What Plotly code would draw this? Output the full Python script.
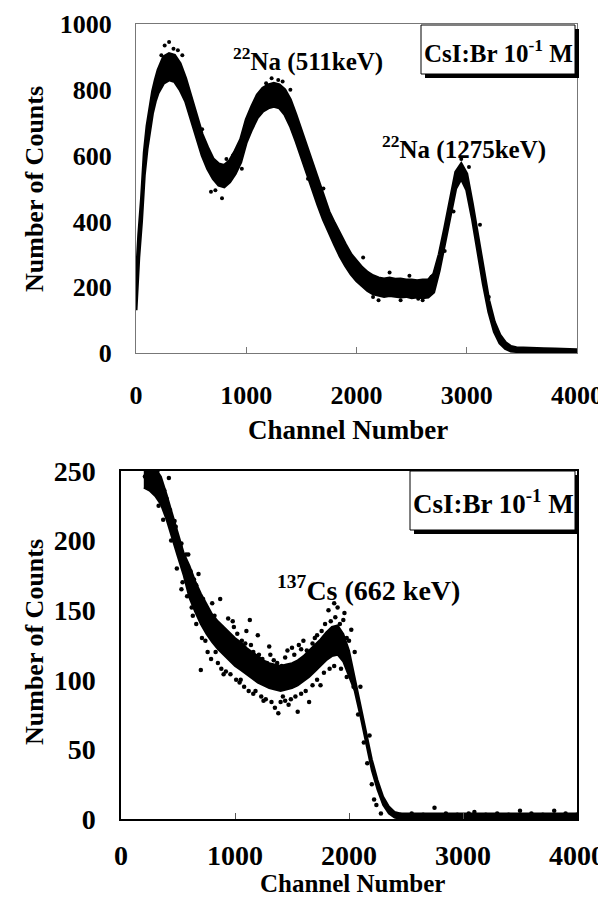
import plotly.graph_objects as go

W, H = 606, 899
FONT = "Liberation Serif"

# ---------------- data: top panel (22Na spectrum) ----------------
top_ch = [0, 10, 25, 50, 75, 100, 125, 150, 175, 200,
          250, 300, 350, 400, 450, 500, 550, 600, 650, 700,
          750, 800, 850, 900, 950, 1000, 1050, 1100, 1150, 1200,
          1250, 1300, 1350, 1400, 1450, 1500, 1550, 1600, 1650, 1700,
          1750, 1800, 1850, 1900, 1950, 2000, 2050, 2100, 2150, 2200,
          2250, 2300, 2350, 2400, 2450, 2500, 2550, 2600, 2650, 2700,
          2750, 2800, 2850, 2900, 2950, 3000, 3050, 3100, 3150, 3200,
          3250, 3300, 3350, 3400, 3450, 3500, 3600, 3700, 3800, 3900, 4000]
top_lo = [130, 200, 290, 400, 540, 620, 680, 730, 765, 790,
          820, 830, 825, 800, 765, 710, 650, 600, 560, 530,
          510, 505, 520, 545, 580, 640, 680, 715, 735, 745,
          750, 745, 725, 690, 645, 595, 545, 500, 450, 405,
          365, 330, 295, 265, 240, 220, 205, 190, 180, 175,
          172, 175, 172, 170, 172, 168, 170, 168, 170, 185,
          250, 330, 420, 500, 530, 495, 410, 310, 210, 125,
          65, 30, 14, 6, 4, 3, 3, 2, 2, 2, 1]
top_hi = [210, 280, 360, 470, 610, 690, 745, 795, 830, 860,
          900, 910, 905, 880, 835, 780, 720, 665, 625, 590,
          575, 570, 585, 615, 650, 710, 750, 785, 805, 815,
          820, 815, 800, 770, 725, 675, 625, 575, 525, 475,
          430, 395, 360, 330, 300, 280, 260, 245, 235, 228,
          225, 228, 224, 225, 222, 222, 220, 222, 222, 240,
          300, 380, 470, 550, 575, 545, 455, 355, 250, 160,
          95, 55, 32, 20, 16, 15, 14, 13, 12, 12, 10]
top_out_ch = [260, 300, 340, 420, 720, 780, 820, 880, 1230, 1290,
              1400, 1700, 2200, 2400, 2300, 2950, 3200, 2600, 2800, 1100,
              230, 380, 600, 680, 960, 1180, 1330, 1560, 1860, 2060,
              2150, 2480, 2560, 2680, 2880, 3020, 3120]
top_out_y = [935, 945, 925, 905, 495, 470, 590, 600, 835, 830,
             800, 500, 160, 160, 245, 590, 170, 160, 310, 760,
             905, 920, 680, 490, 560, 820, 825, 530, 300, 290,
             170, 235, 165, 232, 430, 565, 390]

# ---------------- data: bottom panel (137Cs spectrum) ----------------
bot_ch = [200, 250, 300, 350, 400, 450, 500, 550, 600, 650,
          700, 750, 800, 850, 900, 950, 1000, 1050, 1100, 1150,
          1200, 1250, 1300, 1350, 1400, 1450, 1500, 1550, 1600, 1650,
          1700, 1750, 1800, 1850, 1900, 1950, 2000, 2050, 2100, 2150,
          2200, 2250, 2300, 2350, 2400, 2450, 2500,
          2600, 2700, 2800, 2900, 3000, 3100, 3200, 3300, 3400, 3500,
          3600, 3700, 3800, 3900, 4000]
bot_lo = [238, 236, 232, 226, 215, 201, 188, 175, 159, 149,
          140, 133, 127, 122, 118, 114, 110, 107, 104, 101,
          98, 96, 94, 93, 92, 93, 94, 96, 99, 102,
          106, 110, 114, 117, 118, 113, 103, 92, 74, 55,
          35, 21, 10, 4, 1, 0, 0,
          0, 0, 0, 0, 0, 0, 0, 0, 0, 0,
          0, 0, 0, 0, 0]
bot_hi = [250, 252, 252, 246, 233, 219, 204, 191, 182, 171,
          162, 154, 147, 142, 138, 134, 130, 127, 123, 120,
          117, 114, 112, 111, 110, 111, 112, 114, 117, 121,
          125, 129, 134, 138, 139, 133, 121, 101, 82, 62,
          43, 28, 16, 9, 5, 4, 4,
          4, 4, 4, 4, 4, 4, 4, 4, 4, 4,
          4, 4, 4, 4, 4]
bot_out_ch = [210, 280, 380, 420, 470, 520, 560, 590, 540, 620,
              680, 720, 700, 740, 780, 800, 830, 870, 900, 950,
              980, 1050, 1100, 1130, 1180, 1200, 1250, 1300, 1350, 1380,
              1420, 1470, 1500, 1550, 1600, 1650, 1700, 1750, 1820, 1870,
              1900, 1960, 2020, 2050, 2100, 2180, 2220, 2750, 3100, 3500, 3800,
              240, 320, 360, 400, 430, 480, 500, 530, 570, 610,
              640, 660, 690, 730, 760, 790, 820, 850, 880, 910,
              940, 990, 1020, 1060, 1090, 1140, 1160, 1210, 1240, 1280,
              1310, 1340, 1370, 1410, 1440, 1460, 1520, 1560, 1580, 1630,
              1680, 1720, 1760, 1790, 1840, 1880, 1920, 1950, 1980, 2000,
              330, 370, 440, 490, 530, 580, 630, 660, 710, 760,
              790, 850, 880, 920, 960, 1010, 1040, 1080, 1120, 1160,
              1230, 1270, 1320, 1400, 1440, 1490, 1530, 1580, 1620, 1680,
              1720, 1780, 1830, 1870, 1930, 1980, 2040, 2080, 2130, 2160,
              2200, 2240, 2280,
              2450, 2550, 2650, 2850, 2950, 3050, 3200, 3300, 3400, 3600,
              3700, 3900, 4000]
bot_out_y = [246, 243, 236, 245, 214, 196, 183, 190, 170, 152,
             176, 158, 107, 128, 140, 155, 120, 158, 104, 130,
             142, 100, 135, 143, 92, 132, 85, 124, 80, 76,
             88, 82, 123, 77, 128, 84, 130, 96, 150, 155,
             152, 148, 136, 120, 95, 60, 14, 8, 5, 6, 6,
             240, 250, 238, 230, 222, 210, 200, 198, 190, 178,
             172, 168, 160, 150, 148, 145, 146, 140, 138, 135,
             144, 138, 133, 128, 126, 125, 120, 118, 115, 112,
             118, 114, 112, 110, 116, 121, 118, 125, 122, 121,
             126, 132, 135, 140, 142, 145, 140, 143, 130, 128,
             225, 215, 200, 180, 165, 160, 146, 140, 130, 120,
             115, 112, 108, 106, 104, 100, 98, 95, 92, 90,
             88, 86, 84, 84, 85, 86, 88, 90, 92, 96,
             100, 105, 108, 110, 108, 102, 95, 75, 55, 40,
             25, 10, 4,
             3, 4, 3, 4, 3, 4, 3, 4, 3, 4,
             3, 4, 3]

x_ticks = [0, 1000, 2000, 3000, 4000]
top_yticks = [0, 200, 400, 600, 800, 1000]
bot_yticks = [0, 50, 100, 150, 200, 250]

box_label = "CsI:Br 10<sup>-1</sup> M"
top_peak1 = "<sup>22</sup>Na (511keV)"
top_peak2 = "<sup>22</sup>Na (1275keV)"
bot_peak = "<sup>137</sup>Cs (662 keV)"
x_title = "Channel Number"
y_title = "Number of Counts"


def px(x):
    return x / W


def py(y):
    return 1 - y / H


fig = go.Figure()


def band(xs, lo, hi, xa, ya, lw):
    fig.add_trace(go.Scatter(x=xs, y=lo, mode="lines", xaxis=xa, yaxis=ya,
                             line=dict(color="black", width=lw), showlegend=False,
                             hoverinfo="skip"))
    fig.add_trace(go.Scatter(x=xs, y=hi, mode="lines", xaxis=xa, yaxis=ya,
                             fill="tonexty", fillcolor="black",
                             line=dict(color="black", width=lw), showlegend=False,
                             hoverinfo="skip"))


band(top_ch, top_lo, top_hi, "x", "y", 3)
fig.add_trace(go.Scatter(x=top_out_ch, y=top_out_y, mode="markers", xaxis="x", yaxis="y",
                         marker=dict(color="black", size=4), showlegend=False))
band(bot_ch, bot_lo, bot_hi, "x2", "y2", 2)
fig.add_trace(go.Scatter(x=bot_out_ch, y=bot_out_y, mode="markers", xaxis="x2", yaxis="y2",
                         marker=dict(color="black", size=4.5), showlegend=False))

tick_font_top = dict(family=FONT, size=26, color="black", weight="bold")
tick_font_bot = dict(family=FONT, size=28, color="black", weight="bold")

# panel geometry (pixels)
T_L, T_R, T_T, T_B = 128, 569, 16, 345
B_L, B_R, B_T, B_B = 113, 569, 463, 811

fig.update_layout(
    width=W, height=H,
    margin=dict(l=0, r=0, t=0, b=0, autoexpand=False),
    paper_bgcolor="white", plot_bgcolor="white",
    xaxis=dict(domain=[px(T_L), px(T_R)], anchor="y", range=[0, 4000],
               tickvals=x_ticks, ticks="inside", ticklen=6, tickcolor="#777",
               showline=True, mirror=True, linecolor="#777", linewidth=1,
               showgrid=False, zeroline=False, tickfont=tick_font_top,
               ticklabelstandoff=19),
    yaxis=dict(domain=[py(T_B), py(T_T)], anchor="x", range=[0, 1000],
               tickvals=top_yticks, ticks="",
               showline=True, mirror=True, linecolor="#777", linewidth=1,
               showgrid=False, zeroline=False, tickfont=tick_font_top,
               ticklabelstandoff=18),
    xaxis2=dict(domain=[px(B_L), px(B_R)], anchor="y2", range=[0, 4000],
                tickvals=x_ticks, ticks="inside", ticklen=6, tickcolor="#555",
                showline=True, mirror=True, linecolor="black", linewidth=1.5,
                showgrid=False, zeroline=False, tickfont=tick_font_bot,
                ticklabelstandoff=11),
    yaxis2=dict(domain=[py(B_B), py(B_T)], anchor="x2", range=[0, 250],
                tickvals=bot_yticks, ticks="",
                showline=True, mirror=True, linecolor="black", linewidth=1.5,
                showgrid=False, zeroline=False, tickfont=tick_font_bot,
                ticklabelstandoff=18),
)


def legend_box(x0, y0, x1, y1, cx, cy, size):
    fig.add_shape(type="rect", xref="paper", yref="paper",
                  x0=px(x0 + 4), x1=px(x1 + 4), y0=py(y1 + 4), y1=py(y0 + 4),
                  fillcolor="black", line=dict(width=0), layer="above")
    fig.add_shape(type="rect", xref="paper", yref="paper",
                  x0=px(x0), x1=px(x1), y0=py(y1), y1=py(y0),
                  fillcolor="white", line=dict(color="black", width=1), layer="above")
    fig.add_annotation(x=px(cx), y=py(cy), xref="paper", yref="paper",
                       text=box_label, showarrow=False, xanchor="center", yanchor="middle",
                       font=dict(family=FONT, size=size, color="black", weight="bold"))


legend_box(413, 17, 567, 66, 490, 43, 25)
legend_box(402, 463, 567, 522, 485, 494, 27)


def text(cx, cy, s, size, angle=0):
    fig.add_annotation(x=px(cx), y=py(cy), xref="paper", yref="paper",
                       text=s, showarrow=False, xanchor="center", yanchor="middle",
                       textangle=angle, borderpad=0,
                       font=dict(family=FONT, size=size, color="black", weight="bold"))


text(300, 52, top_peak1, 25)
text(456, 139, top_peak2, 25)
text(360, 580, bot_peak, 28)
text(340, 422, x_title, 27)
text(344, 875, x_title, 25)
text(26, 181, y_title, 26, -90)
text(26, 634, y_title, 26, -90)

fig.write_html("out.html")
